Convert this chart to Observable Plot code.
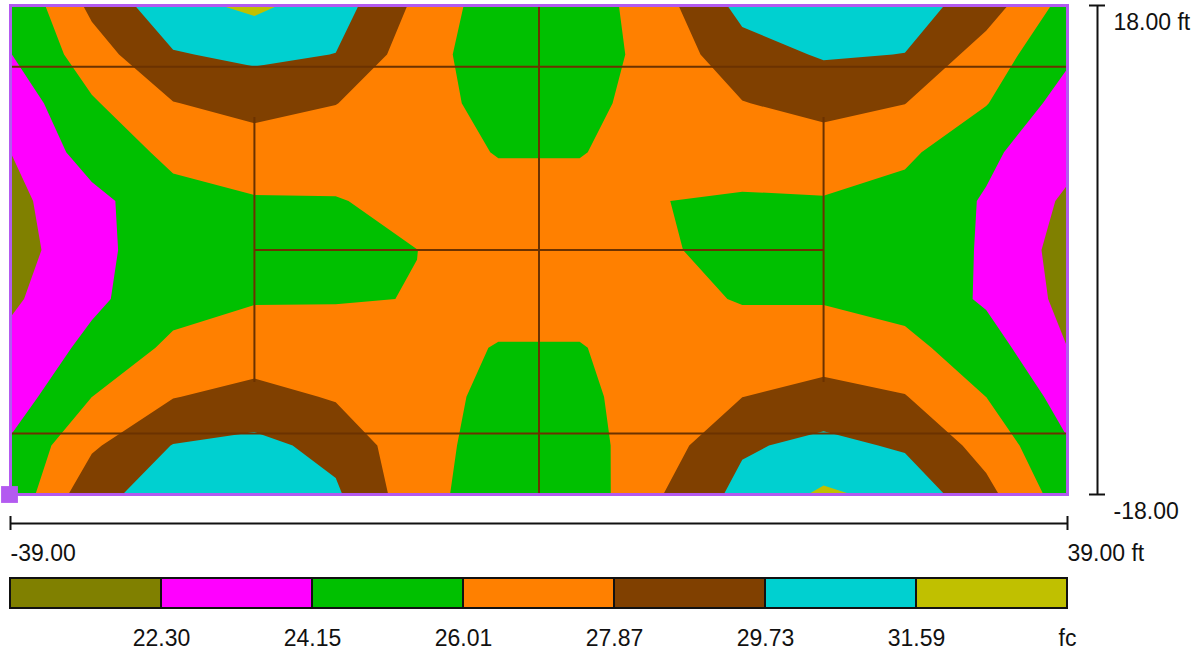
<!DOCTYPE html>
<html>
<head>
<meta charset="utf-8">
<script src="https://cdn.jsdelivr.net/npm/d3@7"></script>
<script src="https://cdn.jsdelivr.net/npm/@observablehq/plot@0.6"></script>
<style>
  html, body { margin: 0; padding: 0; background: #fff; }
  #chart svg { display: block; }
</style>
</head>
<body>
<div id="chart"></div>
<script>
// Calculation grid (ft)
const gridX = [-39, -33, -27, -21, -15, -9, -3, 3, 9, 15, 21, 27, 33, 39];
const gridY = [18, 14.4, 10.8, 7.2, 3.6, 0, -3.6, -7.2, -10.8, -14.4, -18];

// Illuminance values (fc), one row per gridY, one column per gridX
const fcRows = [
  [24.3, 28.3, 31.0, 32.0, 30.6, 27.5, 24.9, 24.9, 27.2, 30.3, 31.3, 30.6, 28.8, 25.3],
  [24.1, 27.0, 29.6, 30.1, 29.7, 26.8, 25.0, 25.0, 26.8, 29.0, 29.9, 29.7, 27.0, 24.5],
  [23.0, 25.8, 27.8, 28.6, 27.9, 27.0, 25.2, 25.2, 27.2, 27.8, 28.5, 27.9, 26.1, 23.3],
  [22.3, 25.0, 26.4, 26.8, 27.0, 27.0, 25.9, 25.9, 27.0, 27.3, 26.9, 26.4, 24.5, 22.9],
  [21.8, 23.6, 25.5, 25.9, 25.9, 26.6, 26.8, 26.8, 26.05, 25.7, 25.9, 25.3, 24.0, 22.0],
  [21.5, 23.6, 25.3, 25.3, 25.5, 26.0, 26.9, 26.9, 26.2, 25.5, 25.3, 25.0, 24.0, 21.5],
  [22.0, 23.8, 25.3, 25.9, 25.9, 26.05, 26.8, 26.8, 26.5, 25.9, 25.9, 25.4, 23.9, 21.8],
  [22.8, 24.6, 26.4, 26.8, 26.9, 26.8, 25.9, 25.9, 27.0, 26.8, 26.8, 26.5, 25.0, 22.3],
  [23.2, 26.0, 27.8, 28.5, 27.7, 26.8, 25.5, 25.5, 27.2, 27.85, 28.6, 27.95, 26.0, 23.4],
  [24.4, 27.6, 29.8, 30.2, 29.2, 26.6, 25.4, 25.4, 27.0, 29.5, 30.2, 29.5, 27.2, 24.3],
  [24.6, 29.2, 30.6, 31.2, 30.0, 26.7, 25.0, 24.9, 27.8, 30.3, 31.9, 31.0, 28.4, 25.0]
];

// Contour levels and legend
const thresholds = [22.30, 24.15, 26.01, 27.87, 29.73, 31.59];
const thresholdLabels = ["22.30", "24.15", "26.01", "27.87", "29.73", "31.59"];
const bandColors = ["#808000", "#ff00ff", "#00c000", "#ff8000", "#804000", "#00d0d0", "#c0c000"];
const unitLabel = "fc";

// Scale bars
const xTicks = [-39, 39];
const xTickLabels = ["-39.00", "39.00 ft"];
const yTicks = [18, -18];
const yTickLabels = ["18.00 ft", "-18.00"];

// Layout lines (ft)
const hLines = [
  {y: 13.5, x1: -39, x2: 39},
  {y: 0, x1: -21, x2: 21},
  {y: -13.5, x1: -39, x2: 39}
];
const vLines = [
  {x: 0, y1: -18, y2: 18},
  {x: -21, y1: -9.75, y2: 9.75},
  {x: 21, y1: -9.75, y2: 9.75}
];

const FONT = "'Liberation Sans', Arial, Helvetica, sans-serif";
const stepX = gridX[1] - gridX[0];
const stepY = gridY[0] - gridY[1];
const lineColor = "#6b3200";
const frameColor = "#b35af0";

const main = Plot.plot({
  width: 1203,
  height: 565,
  marginLeft: 10,
  marginRight: 136,
  marginTop: 5,
  marginBottom: 71,
  x: {domain: [xTicks[0], xTicks[1]], axis: null},
  y: {domain: [yTicks[1], yTicks[0]], axis: null},
  color: {type: "threshold", domain: thresholds, range: bandColors},
  style: {fontFamily: FONT, fontSize: "23px", color: "#111", background: "white"},
  marks: [
    Plot.frame({fill: bandColors[0]}),
    Plot.contour(fcRows.flat(), {
      width: gridX.length,
      height: gridY.length,
      x1: gridX[0] - stepX / 2,
      x2: gridX[gridX.length - 1] + stepX / 2,
      y1: gridY[0] + stepY / 2,
      y2: gridY[gridY.length - 1] - stepY / 2,
      fill: Plot.identity,
      thresholds,
      clip: true
    }),
    Plot.ruleY(hLines, {y: "y", x1: "x1", x2: "x2", stroke: lineColor, strokeWidth: 2}),
    Plot.ruleX(vLines, {x: "x", y1: "y1", y2: "y2", stroke: lineColor, strokeWidth: 2}),
    Plot.frame({stroke: frameColor, strokeWidth: 3}),
    Plot.dot([0], {x: () => xTicks[0], y: () => yTicks[1], symbol: "square", r: 9.5, fill: frameColor, dx: -1}),
    // right vertical scale bar
    Plot.ruleX([xTicks[1]], {y1: yTicks[1], y2: yTicks[0], dx: 30, stroke: "#111", strokeWidth: 2}),
    Plot.ruleY(yTicks, {x1: xTicks[1], x2: xTicks[1], dx: 30, insetLeft: -8, insetRight: -8, stroke: "#111", strokeWidth: 2}),
    Plot.text(yTicks, {x: xTicks[1], y: d => d, text: (d, i) => yTickLabels[i], dx: 46, dy: 24,
      textAnchor: "start", lineAnchor: "bottom", fontSize: 23}),
    // bottom horizontal scale bar
    Plot.ruleY([yTicks[1]], {x1: xTicks[0], x2: xTicks[1], dy: 29, stroke: "#111", strokeWidth: 2}),
    Plot.ruleX(xTicks, {y1: yTicks[1], y2: yTicks[1], dy: 29, insetTop: -7, insetBottom: -7, stroke: "#111", strokeWidth: 2}),
    Plot.text(xTicks, {x: d => d, y: yTicks[1], text: (d, i) => xTickLabels[i], dy: 66,
      textAnchor: "start", lineAnchor: "bottom", fontSize: 23})
  ]
});

const legend = Plot.plot({
  width: 1203,
  height: 87,
  marginLeft: 10,
  marginRight: 136,
  marginTop: 13,
  marginBottom: 44,
  x: {domain: [0, bandColors.length], axis: null},
  y: {domain: [0, 1], axis: null},
  style: {fontFamily: FONT, fontSize: "23px", color: "#111", background: "white"},
  marks: [
    Plot.rect(bandColors, {x1: (d, i) => i, x2: (d, i) => i + 1, y1: 0, y2: 1, fill: d => d, stroke: "#111", strokeWidth: 2}),
    Plot.text(thresholdLabels, {x: (d, i) => i + 1, y: 0, text: d => d, dy: 37, lineAnchor: "bottom", fontSize: 23}),
    Plot.text([unitLabel], {x: bandColors.length, y: 0, text: d => d, dy: 37, lineAnchor: "bottom", fontSize: 23})
  ]
});

document.getElementById("chart").append(main, legend);
</script>
</body>
</html>
